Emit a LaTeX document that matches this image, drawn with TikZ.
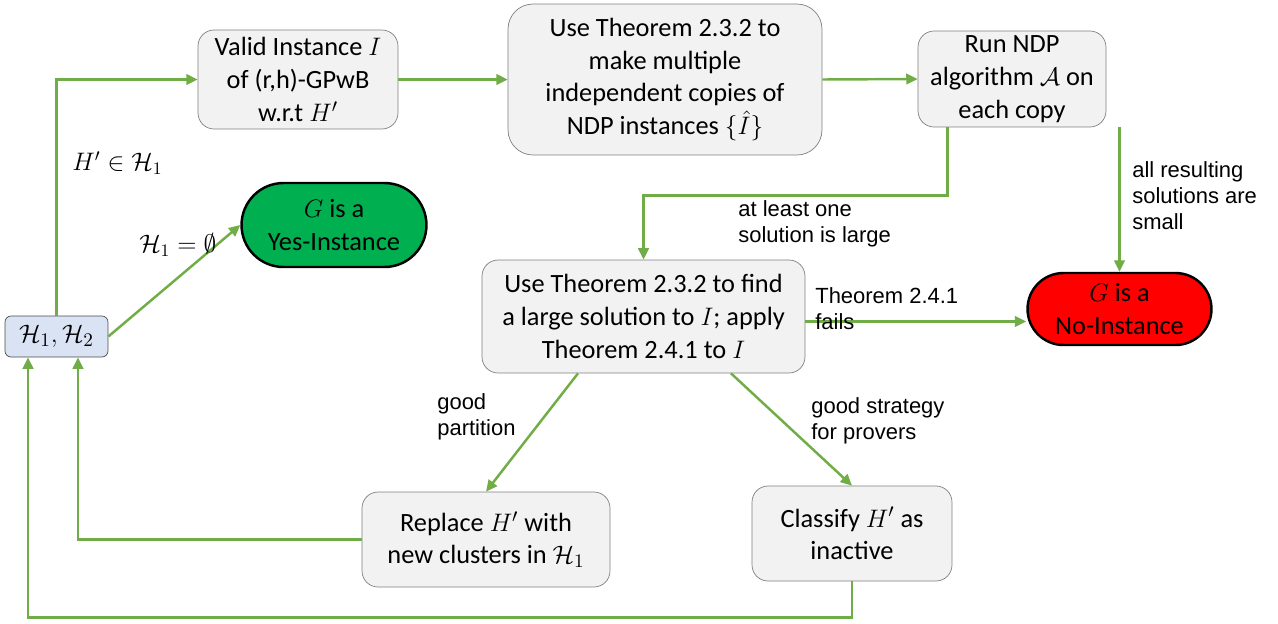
\documentclass[tikz,border=0pt]{standalone}
\usepackage{fontspec}
\setmainfont{Carlito}
\newfontfamily\labelfont{Liberation Sans}
\usepackage{xcolor}
\usepackage{tikz}
\usetikzlibrary{arrows.meta,shapes.misc}

\definecolor{boxfill}{HTML}{F2F2F2}
\definecolor{boxedge}{HTML}{808080}
\definecolor{setfill}{HTML}{DAE3F3}
\definecolor{flowgreen}{HTML}{70AD47}
\definecolor{yesgreen}{HTML}{00B050}

\tikzset{
	procbox/.style={draw=boxedge, fill=boxfill, rounded corners=0.32cm, align=center, inner sep=2pt, font=\fontsize{15}{18.6}\selectfont},
	endbox/.style={draw=black, line width=1.4pt, rounded rectangle, align=center, inner sep=2pt, font=\fontsize{15}{18.6}\selectfont},
	flow/.style={draw=flowgreen, line width=1.4pt, -{Triangle[length=6.5pt,width=6pt]}},
	lbl/.style={anchor=west, align=left, inner sep=0pt, font=\labelfont\fontsize{12.5}{14.8}\selectfont}
}

\begin{document}
\begin{tikzpicture}[x=0.02cm, y=-0.02cm]
	\useasboundingbox (0,0) rectangle (1278,623);

	% boxes of the top row
	\node[procbox, minimum width=4cm, minimum height=1.98cm] (valid) at (298,79.5) {Valid Instance $I$\\of (r,h)-GPwB\\w.r.t $H'$};
	\node[procbox, rounded corners=0.5cm, minimum width=6.28cm, minimum height=3.02cm] (copies) at (665,79.5) {Use Theorem 2.3.2 to\\make multiple\\independent copies of\\NDP instances $\{\hat{I}\}$};
	\node[procbox, minimum width=3.76cm, minimum height=1.92cm] (runndp) at (1012,79) {Run NDP\\algorithm $\mathcal{A}$ on\\each copy};

	% outcomes
	\node[endbox, fill=yesgreen, minimum width=3.84cm, minimum height=1.68cm] (yes) at (334,225) {$G$ is a\\Yes-Instance};
	\node[endbox, fill=red, minimum width=3.82cm, minimum height=1.44cm] (no) at (1119.5,309) {$G$ is a\\No-Instance};

	\node[draw=black!70, fill=setfill, rounded corners=0.12cm, minimum width=2.06cm, minimum height=0.82cm, inner sep=1pt, font=\fontsize{15}{18.6}\selectfont] (hsets) at (56.5,336.5) {$\mathcal{H}_1,\mathcal{H}_2$};

	\node[procbox, minimum width=6.46cm, minimum height=2.26cm] (findsol) at (643.5,316.5) {Use Theorem 2.3.2 to find\\a large solution to $I$; apply\\Theorem 2.4.1 to $I$};
	\node[procbox, minimum width=4.96cm, minimum height=1.9cm] (replace) at (486,539.5) {Replace $H'$ with\\new clusters in $\mathcal{H}_1$};
	\node[procbox, minimum width=4cm, minimum height=1.9cm] (classify) at (852,533.5) {Classify $H'$ as\\inactive};

	% connectors
	\draw[flow] (hsets.north) |- (valid.west);
	\draw[flow] (hsets.east) -- (yes.west);
	\draw[flow] (valid.east) -- (copies.west);
	\draw[flow] (copies.east) -- (runndp.west);
	\draw[flow] ([xshift=0.6cm]runndp.south west) -- ++(0,68) -| (findsol.north);
	\draw[flow] (runndp.south -| no.north) -- (no.north);
	\draw[flow] ([yshift=-0.1cm]findsol.east) -- ([yshift=-0.1cm]findsol.east -| no.west);
	\draw[flow] ([xshift=-1.31cm]findsol.south) -- (replace.north);
	\draw[flow] ([xshift=1.75cm]findsol.south) -- (classify.north);
	\draw[flow] (replace.west) -| ([xshift=0.43cm]hsets.south);
	\draw[flow] (classify.south) -- ++(0,36) -| ([xshift=-0.57cm]hsets.south);

	% labels
	\node[lbl, font=\fontsize{14}{16}\selectfont] (l1) at (72,163) {$H' \in \mathcal{H}_1$};
	\node[lbl, font=\fontsize{14}{16}\selectfont] (l2) at (139,245) {$\mathcal{H}_1 = \emptyset$};
	\node[lbl] (l3) at (738,224) {at least one\\solution is large};
	\node[lbl] (l4) at (1132,196) {all resulting\\solutions are\\small};
	\node[lbl] (l5) at (815,309) {Theorem 2.4.1\\fails};
	\node[lbl] (l6) at (437,417) {good\\partition};
	\node[lbl] (l7) at (811,421) {good strategy\\for provers};
\end{tikzpicture}
\end{document}
